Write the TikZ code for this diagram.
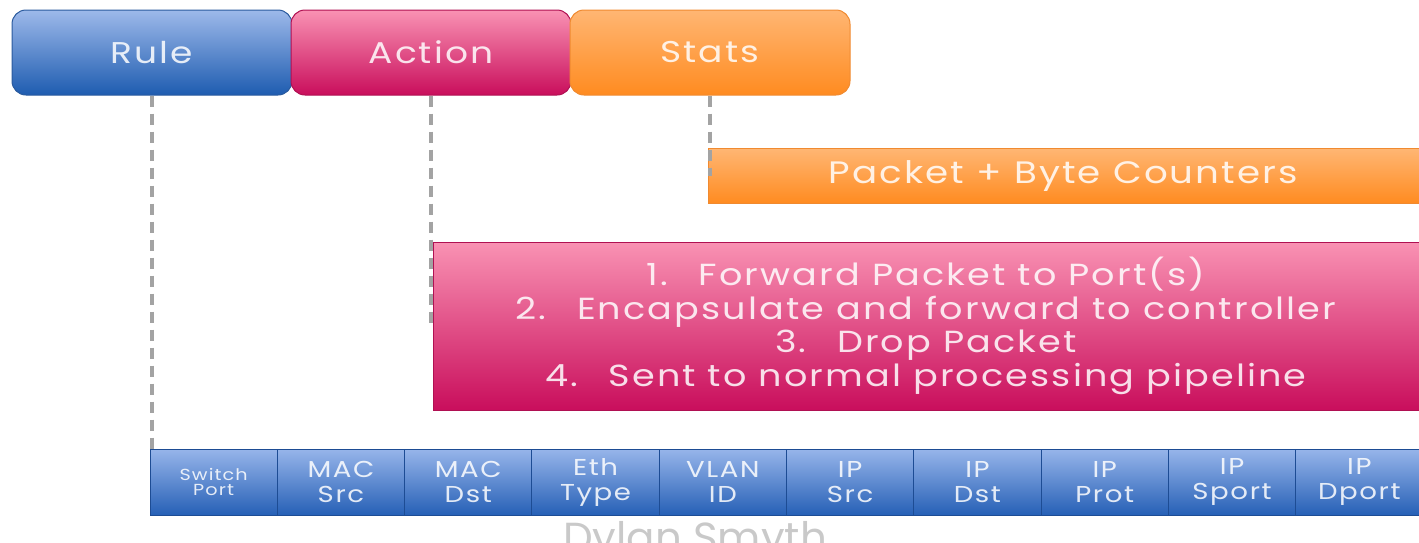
\documentclass[tikz,border=0pt]{standalone}
\usepackage{fontspec}
\setmainfont{Poppins}[FakeStretch=1.2, LetterSpace=7]
\newfontfamily\markfont{Poppins}
\definecolor{ruleTop}{HTML}{9DB9EA}
\definecolor{ruleBot}{HTML}{1E5CB0}
\definecolor{ruleEdge}{HTML}{2A5A9E}
\definecolor{actTop}{HTML}{F992B3}
\definecolor{actBot}{HTML}{C90E5C}
\definecolor{actEdge}{HTML}{B01052}
\definecolor{statTop}{HTML}{FFB673}
\definecolor{statBot}{HTML}{FF8B20}
\definecolor{statEdge}{HTML}{F08A30}
\definecolor{fieldTop}{HTML}{97B5EA}
\definecolor{fieldBot}{HTML}{2660B6}
\definecolor{fieldEdge}{HTML}{1D4C94}
\definecolor{dashGray}{HTML}{A3A3A3}
\definecolor{wmGray}{HTML}{C9C9C9}
\begin{document}
\begin{tikzpicture}[x=1pt,y=-1pt,
  header/.style={rounded corners=14pt, minimum width=280pt, minimum height=85pt,
    inner sep=0pt, line width=1pt, text=white, text opacity=0.85,
    font=\fontsize{30}{32}\selectfont},
  banner/.style={inner sep=0pt, line width=0.6pt, text=white, text opacity=0.85,
    align=center},
  fieldcell/.style={minimum width=127.3pt, minimum height=66pt, inner sep=0pt,
    top color=fieldTop, bottom color=fieldBot, draw=fieldEdge, line width=1pt,
    text=white, text opacity=0.85, align=center,
    font=\fontsize{23}{25}\selectfont},
  link/.style={draw=dashGray, line width=4pt, dash pattern=on 11pt off 7pt}]
\useasboundingbox (0,0) rectangle (1419,542);

% watermark text partly hidden by the field bar
\node[anchor=base, text=wmGray, font=\markfont\fontsize{42}{42}\selectfont] (wm) at (695,552) {Dylan Smyth};

% flow-table entry header
\node[header, top color=ruleTop, bottom color=ruleBot, draw=ruleEdge] (rule) at (152,52.5) {Rule};
\node[header, top color=actTop, bottom color=actBot, draw=actEdge] (action) at (431,52.5) {Action};
\node[header, top color=statTop, bottom color=statBot, draw=statEdge] (stats) at (710,52.5) {Stats};

% statistics and action detail boxes
\node[banner, minimum width=711pt, minimum height=55pt, top color=statTop, bottom color=statBot,
  draw=statEdge, font=\fontsize{31}{32}\selectfont] (counters) at (1063.5,176) {Packet + Byte Counters};
\node[banner, minimum width=986pt, minimum height=168pt, top color=actTop, bottom color=actBot,
  draw=actEdge, font=\fontsize{30.5}{33.5}\selectfont] (actions) at (926,326)
  {1.\quad Forward Packet to Port(s)\\
   2.\quad Encapsulate and forward to controller\\
   3.\quad Drop Packet\\
   4.\quad Sent to normal processing pipeline};

% header fields matched by the rule
\foreach \lbl [count=\i] in {{MAC\\Src},{MAC\\Dst},{Eth\\Type},{VLAN\\ID},{IP\\Src},{IP\\Dst},{IP\\Prot},{IP\\Sport},{IP\\Dport}}
  \node[fieldcell] (f\the\numexpr\i+1\relax) at ({150+127.3*\i+63.65},482) {\lbl};
\node[fieldcell, font=\fontsize{16}{15}\selectfont] (f1) at (213.65,482) {Switch\\Port};

% dashed links from the header parts to their details
\draw[link] (rule.south) -- (rule.south |- f1.north);
\draw[link] (action.south) -- (action.south |- actions.west);
\draw[link] (stats.south) -- (stats.south |- counters.west);
\end{tikzpicture}
\end{document}
